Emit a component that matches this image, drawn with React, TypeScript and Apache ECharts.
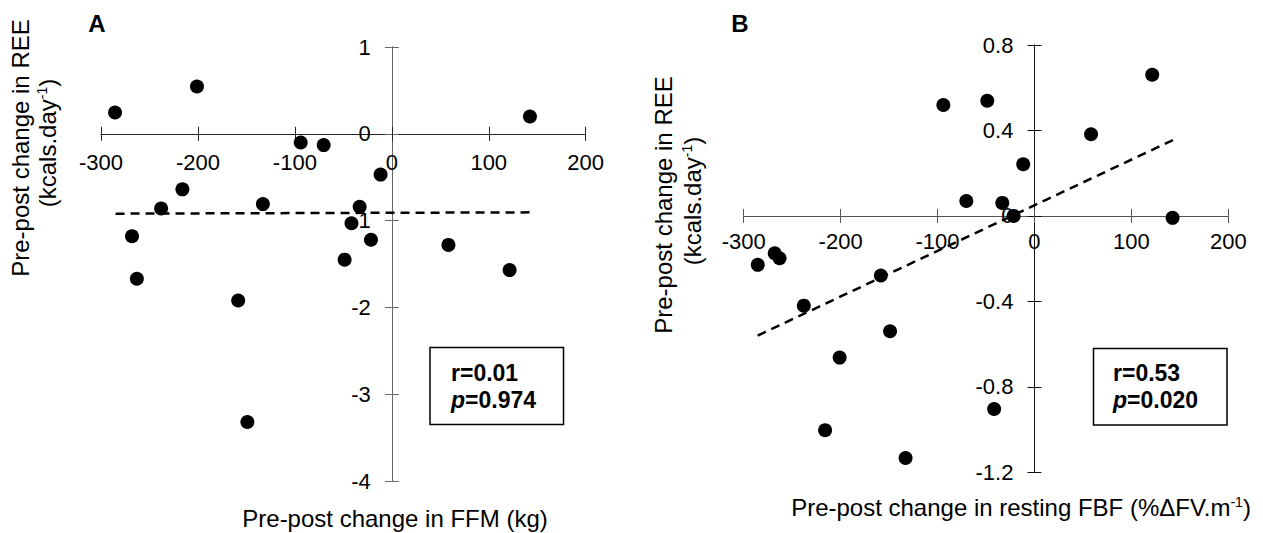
import React, { useEffect, useRef } from "react";
import * as echarts from "echarts";

// ---- data ----
const xValues = [-285.5, -268, -263, -238, -216, -201, -158.5, -149, -133, -94, -70.3, -48.7, -41.6, -33.2, -21.5, -11.6, 58.4, 121.5, 142.5];
const reeA = [0.245, -1.18, -1.67, -0.86, -0.64, 0.545, -1.92, -3.32, -0.81, -0.1, -0.13, -1.45, -1.03, -0.84, -1.22, -0.47, -1.28, -1.57, 0.2];
const reeB = [-0.229, -0.175, -0.198, -0.42, -1.003, -0.663, -0.279, -0.54, -1.133, 0.519, 0.07, 0.539, -0.904, 0.061, 0.0, 0.242, 0.382, 0.661, -0.009];
const trendAX = [-285, 143];
const trendAY = [-0.92, -0.905];
const trendBX = [-285.6, 143.4];
const trendBY = [-0.56, 0.356];
const statsA = ["r=0.01", "0.974"];
const statsB = ["r=0.53", "0.020"];
const xRange = [-300, 200, 100];
const yRangeA = [-4, 1, 1];
const yRangeB = [-1.2, 0.8, 0.4];
const panelLabels = ["A", "B"];
const xTitleA = "Pre-post change in FFM (kg)";
const xTitleB = "Pre-post change in resting FBF (%ΔFV.m";
const yTitle1 = "Pre-post change in REE";
const yTitle2 = "(kcals.day";

const FONT = '"Liberation Sans", Arial, Helvetica, sans-serif';

const gridA = { left: 101, top: 47, width: 484.7, height: 434 };
const gridB = { left: 743.7, top: 45, width: 484.6, height: 427.3 };

// offsets that put each axis through the other axis' zero
function zeroFrac(r: number[]) {
  return (0 - r[0]) / (r[1] - r[0]);
}

function xAxes(gridIndex: number, g: any, yr: number[], color: string, margin: number) {
  const f = zeroFrac(yr);
  const base = {
    type: "value" as const,
    gridIndex,
    min: xRange[0],
    max: xRange[1],
    interval: xRange[2],
    splitLine: { show: false },
    axisLine: { show: true, onZero: false, lineStyle: { color, width: 1 } },
    axisTick: { show: true, inside: false, length: 7, lineStyle: { color, width: 1 } },
  };
  return [
    {
      ...base,
      position: "bottom",
      offset: -f * g.height,
      axisLabel: { show: true, margin, fontSize: 22, color: "#000", fontFamily: FONT },
    },
    { ...base, position: "top", offset: -(1 - f) * g.height, axisLabel: { show: false } },
  ];
}

function yAxes(gridIndex: number, g: any, r: number[], color: string, pad: number, fmt: (v: number) => string) {
  const f = zeroFrac(xRange);
  const base = {
    type: "value" as const,
    gridIndex,
    min: r[0],
    max: r[1],
    interval: r[2],
    splitLine: { show: false },
    axisLine: { show: true, onZero: false, lineStyle: { color, width: 1 } },
    axisTick: { show: true, inside: false, length: 7, lineStyle: { color, width: 1 } },
  };
  return [
    {
      ...base,
      position: "left",
      offset: -f * g.width,
      axisLabel: {
        show: true,
        margin: 21,
        fontSize: 22,
        color: "#000",
        fontFamily: FONT,
        padding: [pad, 0, 0, 0],
        formatter: fmt,
      },
    },
    { ...base, position: "right", offset: -(1 - f) * g.width, axisLabel: { show: false } },
  ];
}

function txt(x: number, y: number, text: string, extra: any = {}, rotation = 0) {
  return {
    type: "text",
    x,
    y,
    rotation,
    style: {
      text,
      fill: "#000",
      fontSize: 24,
      fontFamily: FONT,
      align: "center",
      textAlign: "center",
      verticalAlign: "middle",
      textVerticalAlign: "middle",
      ...extra,
    },
  };
}

const supRich = {
  a: { fontSize: 24, fontFamily: FONT, color: "#000" },
  s: { fontSize: 14, fontFamily: FONT, color: "#000", verticalAlign: "top" },
};

const statRich = {
  b: { fontSize: 23, fontWeight: "bold", fontFamily: FONT, color: "#000" },
  i: { fontSize: 23, fontWeight: "bold", fontStyle: "italic", fontFamily: FONT, color: "#000" },
};

export default function App() {
  const ref = useRef<HTMLDivElement>(null);
  useEffect(() => {
    if (!ref.current) return;
    const chart = echarts.init(ref.current, undefined, { renderer: "svg" });
    const dataA = xValues.map((x, i) => [x, reeA[i]]);
    const dataB = xValues.map((x, i) => [x, reeB[i]]);
    const tA = trendAX.map((x, i) => [x, trendAY[i]]);
    const tB = trendBX.map((x, i) => [x, trendBY[i]]);
    const dash = { color: "#000", width: 2.5, type: [9, 6] as any };

    chart.setOption({
      animation: false,
      grid: [gridA, gridB],
      xAxis: [...xAxes(0, gridA, yRangeA, "#222", 18), ...xAxes(1, gridB, yRangeB, "#555", 15)],
      yAxis: [
        ...yAxes(0, gridA, yRangeA, "#666", 10, (v: number) => String(Math.round(v))),
        ...yAxes(1, gridB, yRangeB, "#111", 4, (v: number) => (Math.abs(v) < 1e-9 ? "0" : v.toFixed(1))),
      ],
      series: [
        {
          type: "line",
          xAxisIndex: 0,
          yAxisIndex: 0,
          data: tA,
          symbol: "none",
          lineStyle: dash,
          z: 1,
        },
        {
          type: "scatter",
          xAxisIndex: 0,
          yAxisIndex: 0,
          data: dataA,
          symbol: "circle",
          symbolSize: 14,
          itemStyle: { color: "#000", opacity: 1 },
          z: 3,
        },
        {
          type: "line",
          xAxisIndex: 2,
          yAxisIndex: 2,
          data: tB,
          symbol: "none",
          lineStyle: dash,
          z: 1,
        },
        {
          type: "scatter",
          xAxisIndex: 2,
          yAxisIndex: 2,
          data: dataB,
          symbol: "circle",
          symbolSize: 14,
          itemStyle: { color: "#000", opacity: 1 },
          z: 3,
        },
      ],
      graphic: [
        txt(97, 23, panelLabels[0], { fontWeight: "bold", fontSize: 24 }),
        txt(740, 23, panelLabels[1], { fontWeight: "bold", fontSize: 24 }),
        // y titles
        txt(20, 148, yTitle1, {}, Math.PI / 2),
        txt(47, 143, "{a|" + yTitle2 + "}{s|-1}{a|)}", { rich: supRich }, Math.PI / 2),
        txt(663, 205, yTitle1, {}, Math.PI / 2),
        txt(692, 201, "{a|" + yTitle2 + "}{s|-1}{a|)}", { rich: supRich }, Math.PI / 2),
        // x titles
        txt(395, 518, xTitleA),
        txt(1021, 507, "{a|" + xTitleB + "}{s|-1}{a|)}", { rich: supRich }),
        // stats boxes
        {
          type: "rect",
          shape: { x: 430, y: 347.5, width: 133.5, height: 77 },
          style: { fill: "transparent", stroke: "#000", lineWidth: 1.5 },
        },
        txt(451, 373, "{b|" + statsA[0] + "}", { rich: statRich, align: "left", textAlign: "left" }),
        txt(451, 400, "{i|p}{b|=" + statsA[1] + "}", { rich: statRich, align: "left", textAlign: "left" }),
        {
          type: "rect",
          shape: { x: 1093.5, y: 348.5, width: 133.5, height: 76.5 },
          style: { fill: "transparent", stroke: "#000", lineWidth: 1.5 },
        },
        txt(1113, 373, "{b|" + statsB[0] + "}", { rich: statRich, align: "left", textAlign: "left" }),
        txt(1113, 400, "{i|p}{b|=" + statsB[1] + "}", { rich: statRich, align: "left", textAlign: "left" }),
      ],
    });
    return () => chart.dispose();
  }, []);
  return (
    <div
      ref={ref}
      style={{ position: "fixed", left: 0, top: 0, width: 1263, height: 533, background: "#fff" }}
    />
  );
}
